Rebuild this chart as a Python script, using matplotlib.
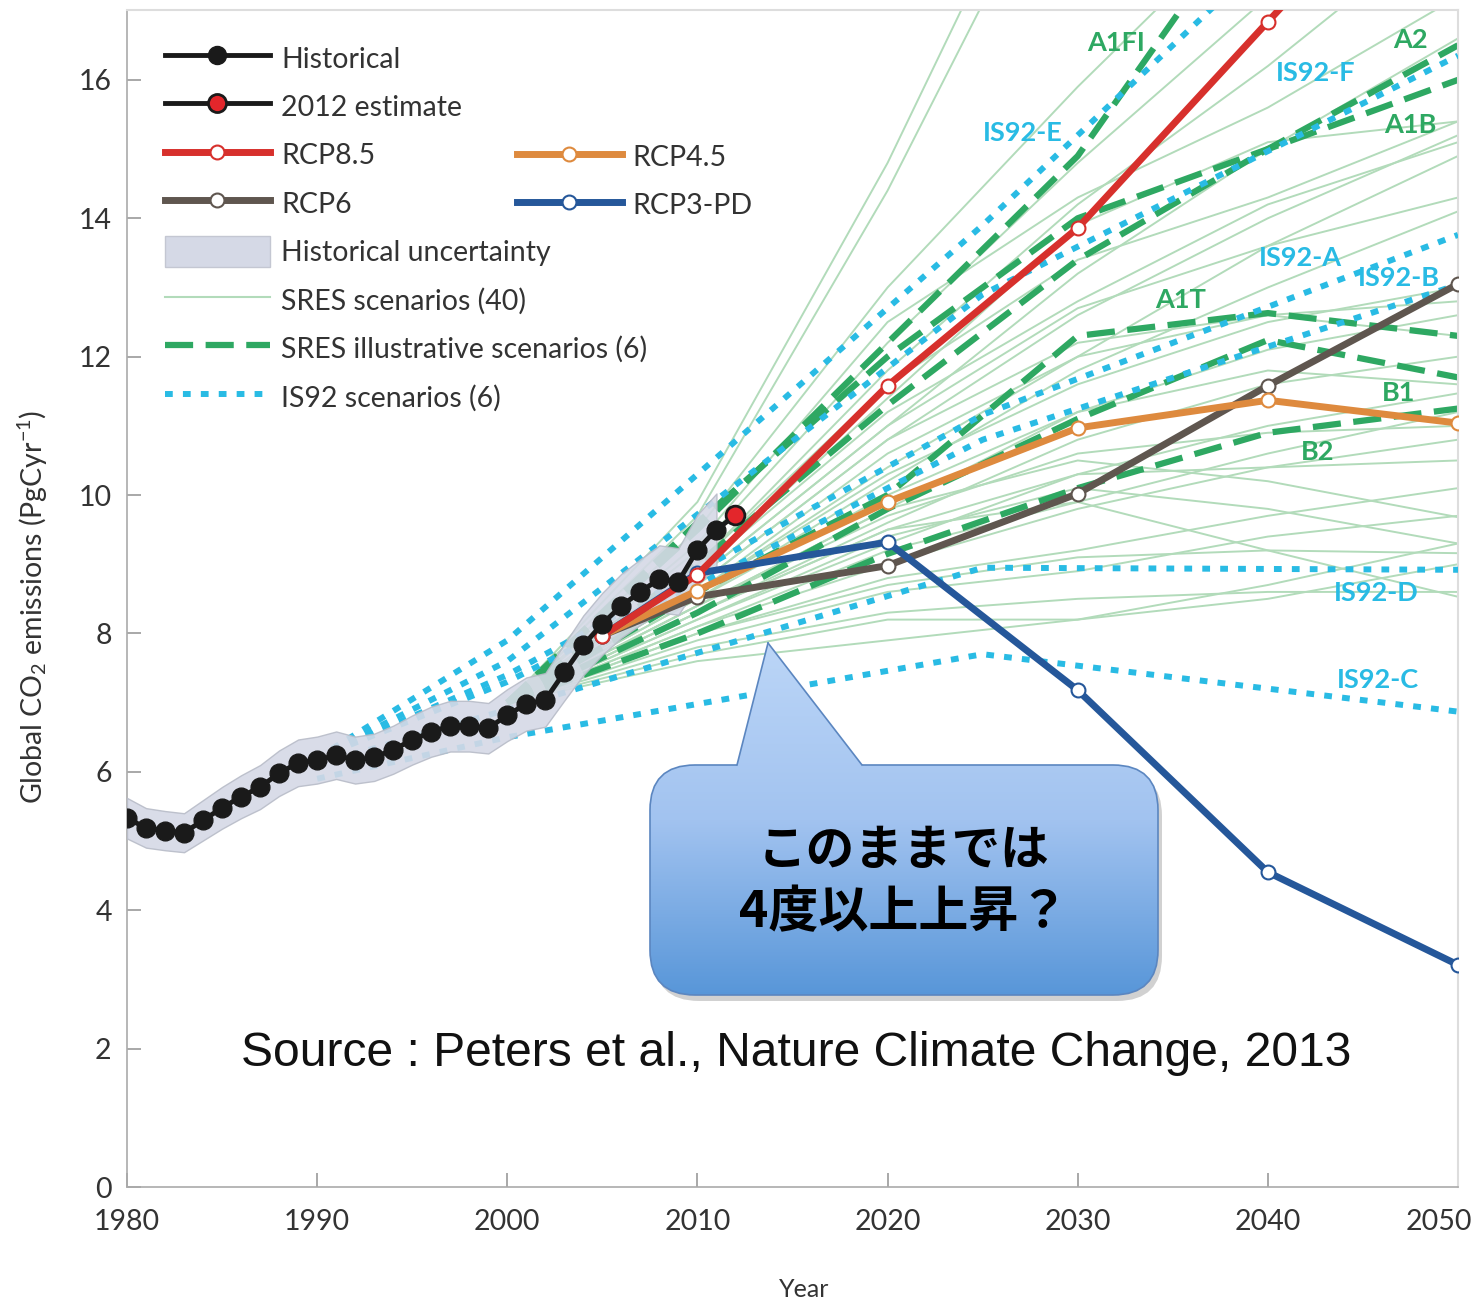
import numpy as np
import matplotlib
matplotlib.use("Agg")
import matplotlib.pyplot as plt
import matplotlib.transforms as mtransforms
from matplotlib.lines import Line2D
from matplotlib.patches import Patch, FancyBboxPatch, Polygon
from matplotlib.colors import LinearSegmentedColormap

plt.rcParams['font.family'] = ['Lato', 'DejaVu Sans']
plt.rcParams['mathtext.default'] = 'regular'

# ---- data -------------------------------------------------------------
hist_years = list(range(1980, 2012))
hist_vals = [5.33, 5.19, 5.15, 5.12, 5.30, 5.48, 5.64, 5.78, 5.98, 6.13,
             6.17, 6.24, 6.17, 6.21, 6.32, 6.46, 6.58, 6.66, 6.66, 6.63,
             6.82, 6.98, 7.04, 7.44, 7.83, 8.14, 8.40, 8.60, 8.79, 8.75,
             9.21, 9.50]
est_year = [2011, 2012]
est_vals = [9.50, 9.71]

rcp_years = [2005, 2010, 2020, 2030, 2040, 2050]
rcp85 = [7.97, 8.85, 11.58, 13.86, 16.84, 19.80]
rcp6 = [7.97, 8.53, 8.98, 10.02, 11.58, 13.05]
rcp45 = [7.97, 8.62, 9.90, 10.97, 11.37, 11.04]
rcp3pd = [7.97, 8.87, 9.32, 7.18, 4.55, 3.21]

sres_years = [2000, 2010, 2020, 2030, 2040, 2050]
sres_thin = [
    [7.0, 9.9, 14.8, 20.5, 26.0, 31.0],
    [7.0, 9.7, 14.4, 19.8, 25.0, 30.0],
    [7.0, 9.5, 13.0, 15.9, 18.6, 21.5],
    [7.0, 9.2, 12.2, 14.8, 17.2, 19.5],
    [7.0, 9.0, 11.8, 14.2, 16.2, 18.4],
    [7.0, 9.3, 12.5, 14.3, 15.6, 17.2],
    [7.0, 8.8, 11.0, 13.2, 15.0, 16.6],
    [7.0, 9.0, 11.6, 13.4, 14.3, 15.4],
    [7.0, 8.7, 10.8, 12.6, 14.0, 15.2],
    [7.0, 8.9, 11.2, 12.8, 14.2, 15.1],
    [7.0, 8.6, 10.4, 12.0, 13.6, 14.9],
    [7.0, 8.8, 11.0, 12.7, 13.6, 14.3],
    [7.0, 8.5, 10.2, 11.8, 13.0, 14.1],
    [7.0, 8.6, 10.6, 12.0, 12.6, 12.8],
    [7.0, 8.4, 9.8, 11.2, 12.1, 12.6],
    [7.0, 8.7, 10.8, 12.2, 12.6, 12.3],
    [7.0, 8.3, 9.6, 10.8, 11.6, 12.0],
    [7.0, 8.5, 10.0, 11.2, 11.8, 11.6],
    [7.0, 8.2, 9.3, 10.3, 11.0, 11.47],
    [7.0, 8.4, 9.7, 10.6, 10.9, 11.0],
    [7.0, 8.1, 9.0, 9.8, 10.4, 10.8],
    [7.0, 8.3, 9.5, 10.3, 10.4, 10.5],
    [7.0, 8.0, 8.8, 9.2, 9.7, 10.1],
    [7.0, 8.4, 9.8, 10.5, 10.2, 9.68],
    [7.0, 8.2, 9.4, 10.1, 9.8, 9.3],
    [7.0, 8.0, 8.7, 9.1, 9.2, 9.16],
    [7.0, 8.3, 9.5, 9.9, 9.2, 8.53],
    [7.0, 7.9, 8.6, 8.9, 9.4, 9.7],
    [7.0, 7.8, 8.3, 8.5, 8.6, 8.6],
    [7.0, 7.6, 7.9, 8.2, 8.7, 9.3],
    [7.0, 7.7, 8.2, 8.2, 8.5, 9.0],
    [7.0, 8.1, 9.2, 9.9, 10.6, 11.2],
    [7.0, 8.6, 10.3, 11.6, 12.5, 13.0],
    [7.0, 8.9, 11.4, 13.9, 15.1, 15.4],
]
sres_names = ['A1FI', 'A1B', 'A2', 'A1T', 'B1', 'B2']
sres_illus = [
    [7.0, 9.5, 12.2, 14.9, 18.8, 22.5],
    [7.0, 9.6, 12.0, 14.0, 15.0, 16.0],
    [7.0, 9.0, 11.3, 13.4, 15.0, 16.5],
    [7.0, 8.6, 10.0, 12.3, 12.63, 12.3],
    [7.0, 8.3, 9.8, 11.1, 12.24, 11.7],
    [7.0, 8.0, 9.15, 10.1, 10.9, 11.25],
]
is92_years = [1990, 2000, 2025, 2050]
is92_names = ['IS92-E', 'IS92-F', 'IS92-A', 'IS92-B', 'IS92-D', 'IS92-C']
is92_vals = [
    [6.2, 7.9, 13.9, 20.4],
    [6.2, 7.6, 12.9, 16.35],
    [6.2, 7.4, 11.16, 13.76],
    [6.2, 7.3, 10.8, 13.04],
    [6.1, 6.9, 8.95, 8.92],
    [5.9, 6.5, 7.7, 6.87],
]
# label anchor positions for scenario names
sres_label_pos = {'A1FI': (2032.0, 16.53), 'A2': (2047.5, 16.58), 'A1B': (2047.5, 15.35),
                  'A1T': (2035.4, 12.82), 'B1': (2046.9, 11.48), 'B2': (2042.6, 10.62)}
is92_label_pos = {'IS92-E': (2027.1, 15.23), 'IS92-F': (2042.5, 16.1), 'IS92-A': (2041.7, 13.43),
                  'IS92-B': (2046.9, 13.14), 'IS92-D': (2045.7, 8.58), 'IS92-C': (2045.8, 7.32)}

# ---- colours ----------------------------------------------------------
c_thin = '#b2dbba'
c_dash = '#2ea862'
c_dot = '#29bbe4'
c_red = '#d7302c'
c_orange = '#de8a3e'
c_brown = '#5f564f'
c_blue = '#25579a'
c_text = '#333333'

W, H = 1479, 1306
fig = plt.figure(figsize=(W / 100, H / 100), dpi=100)
ax = fig.add_axes([127 / W, (H - 1187) / H, 1331 / W, 1177 / H])

for vals in sres_thin:
    ax.plot(sres_years, vals, color=c_thin, lw=1.4, zorder=1)

for name, vals in zip(sres_names, sres_illus):
    ax.plot(sres_years, vals, color=c_dash, lw=4.5, dashes=(4.5, 2.0), zorder=2)
    x, y = sres_label_pos[name]
    ax.text(x, y, name, color=c_dash, fontsize=19.5, fontweight='bold', ha='center', va='center', zorder=8)

for name, vals in zip(is92_names, is92_vals):
    ax.plot(is92_years, vals, color=c_dot, lw=4.3, dashes=(1.3, 1.7), zorder=3)
    x, y = is92_label_pos[name]
    ax.text(x, y, name, color=c_dot, fontsize=19.5, fontweight='bold', ha='center', va='center', zorder=8)

hv = np.array(hist_vals)
ax.fill_between(hist_years, hv * 0.945, hv * 1.055, color='#d5d9e6', alpha=0.9,
                edgecolor='#b8bcc8', lw=1, zorder=4)

rcp_style = dict(lw=5, marker='o', ms=10, mfc='white', mew=1.5, zorder=6)
ax.plot(rcp_years, rcp6, color=c_brown, mec=c_brown, **rcp_style)
ax.plot(rcp_years, rcp45, color=c_orange, mec=c_orange, **rcp_style)
ax.plot(rcp_years, rcp3pd, color=c_blue, mec=c_blue, **rcp_style)
ax.plot(rcp_years, rcp85, color=c_red, mec=c_red, **rcp_style)

ax.plot(hist_years, hist_vals, color='#1a1a1a', lw=3.5, marker='o', ms=13.5, zorder=7)
ax.plot(est_year, est_vals, color='#1a1a1a', lw=3.5, zorder=7)
ax.plot(est_year[1:], est_vals[1:], ls='none', marker='o', ms=13.5, mfc='#e3262b',
        mec='#1a1a1a', mew=2, zorder=7)

ax.set_xlim(1980, 2050)
ax.set_ylim(0, 17.01)
ax.set_xticks(range(1980, 2051, 10))
ax.set_yticks(range(0, 17, 2))
ax.tick_params(direction='in', length=10, width=1.2, color='#999999',
               labelsize=20.5, labelcolor=c_text)
ax.tick_params(axis='x', pad=16)
ax.tick_params(axis='y', pad=11)
last = ax.get_xticklabels()[-1]
last.set_horizontalalignment('right')
last.set_transform(last.get_transform() +
                   mtransforms.ScaledTranslation(14 / 100, 0, fig.dpi_scale_trans))
for side in ['left', 'bottom']:
    ax.spines[side].set_color('#aaaaaa')
    ax.spines[side].set_linewidth(1.2)
for side in ['top', 'right']:
    ax.spines[side].set_color('#dddddd')
    ax.spines[side].set_linewidth(1.5)

fig.text(33 / W, 1 - 607 / H, 'Global CO$_2$ emissions (PgCyr$^{-1}$)', fontsize=20.5,
         color=c_text, rotation=90, ha='center', va='center')
ax.set_xlabel('Year', fontsize=18, color=c_text)
ax.xaxis.set_label_coords(0.509, -0.077)

# ---- legends ----------------------------------------------------------
def rcp_handle(c):
    return Line2D([], [], color=c, lw=5, marker='o', ms=10, mfc='white', mec=c, mew=1.5)

h1 = [
    Line2D([], [], color='#1a1a1a', lw=3.5, marker='o', ms=13),
    Line2D([], [], color='#1a1a1a', lw=3.5, marker='o', ms=13, mfc='#e3262b', mec='#1a1a1a', mew=2),
    rcp_handle(c_red),
    rcp_handle(c_brown),
    Patch(facecolor='#d5d9e6', edgecolor='#c4c7d2'),
    Line2D([], [], color=c_thin, lw=1.5),
    Line2D([], [], color=c_dash, lw=4.5, dashes=(4.5, 2.0)),
    Line2D([], [], color=c_dot, lw=4.3, dashes=(1.3, 1.7)),
]
l1 = ['Historical', '2012 estimate', 'RCP8.5', 'RCP6', 'Historical uncertainty',
      'SRES scenarios (40)', 'SRES illustrative scenarios (6)', 'IS92 scenarios (6)']
leg_kw = dict(frameon=False, fontsize=20.5, handlelength=3.68, handleheight=1.3,
              handletextpad=0.39, labelspacing=0.61, borderpad=0, borderaxespad=0,
              numpoints=1, labelcolor=c_text)
leg1 = ax.legend(h1, l1, loc='upper left', bbox_to_anchor=(0.0286, 0.9724), **leg_kw)
ax.add_artist(leg1)
h2 = [rcp_handle(c_orange), rcp_handle(c_blue)]
ax.legend(h2, ['RCP4.5', 'RCP3-PD'], loc='upper left', bbox_to_anchor=(0.293, 0.8887), **leg_kw)

# ---- callout overlay (pixel coordinates) -------------------------------
ov = fig.add_axes([0, 0, 1, 1], zorder=10)
ov.set_xlim(0, W)
ov.set_ylim(H, 0)
ov.axis('off')
ov.patch.set_alpha(0)

box_xy, box_w, box_h, rad = (650, 765), 508, 230, 45
shadow = FancyBboxPatch((box_xy[0] + 4, box_xy[1] + 6), box_w, box_h,
                        boxstyle=f'round,pad=0,rounding_size={rad}',
                        facecolor='#000000', alpha=0.18, lw=0)
ov.add_patch(shadow)
box = FancyBboxPatch(box_xy, box_w, box_h, boxstyle=f'round,pad=0,rounding_size={rad}',
                     facecolor='none', edgecolor='#5b86c0', lw=1.2, zorder=3)
ov.add_patch(box)
tri = Polygon([(768, 643), (735.2, 772), (867.4, 772)], closed=True,
              facecolor='none', edgecolor='none')
ov.add_patch(tri)

cmap = LinearSegmentedColormap.from_list('call', ['#bcd6f7', '#a2c3f0', '#5695d8'])
grad = np.linspace(0, 1, 256).reshape(-1, 1)
for clip in (box, tri):
    im = ov.imshow(grad, cmap=cmap, extent=[645, 1165, 1000, 640], origin='upper',
                   aspect='auto', zorder=2 if clip is box else 4)
    im.set_clip_path(clip)
ov.plot([768, 737], [643, 765], color='#5b86c0', lw=1.2, zorder=5)
ov.plot([768, 862], [643, 765], color='#5b86c0', lw=1.2, zorder=5)

ov.text(904, 850, 'このままでは', ha='center', va='center', fontsize=35, fontweight='bold',
        family=['Noto Sans CJK JP', 'DejaVu Sans'], color='black', zorder=6)
ov.text(904, 913, '4度以上上昇？', ha='center', va='center', fontsize=36, fontweight='bold',
        family=['Noto Sans CJK JP', 'DejaVu Sans'], color='black', zorder=6)

ov.text(796, 1053, 'Source : Peters et al., Nature Climate Change, 2013', ha='center',
        va='center', fontsize=34.6, family=['Liberation Sans', 'DejaVu Sans'], color='#111111')

fig.savefig('out.png', dpi=100, facecolor='white')
